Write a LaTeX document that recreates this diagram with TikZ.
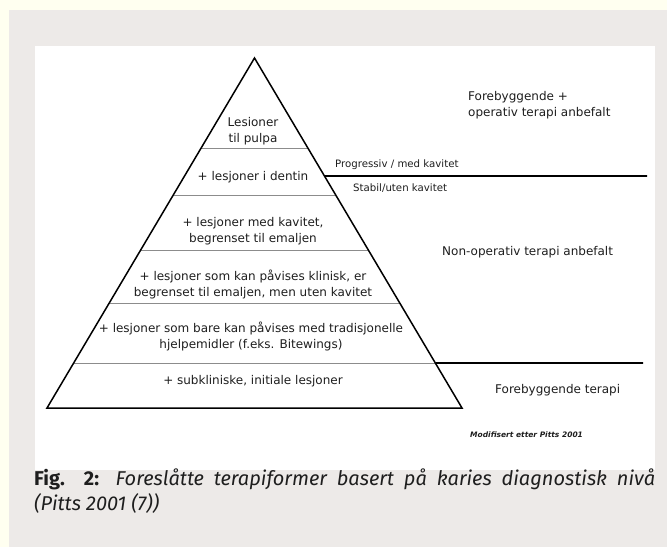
\documentclass[tikz,border=0pt]{standalone}
\usepackage{fontspec}
\setmainfont{DejaVu Sans}
\newfontfamily\capfont{Fira Sans}
\usetikzlibrary{calc}
\definecolor{cream}{RGB}{255,255,240}
\definecolor{panel}{RGB}{237,234,232}
\definecolor{layergray}{RGB}{140,140,140}
\definecolor{ink}{RGB}{30,30,30}
\begin{document}
\begin{tikzpicture}[x=1pt,y=-1pt,
  pyr/.style={draw=black,line width=1.5pt,line join=miter},
  layerline/.style={draw=layergray,line width=0.9pt},
  sepline/.style={draw=black,line width=1.6pt},
  lvl/.style={inner sep=0pt,align=center,text=ink,font=\fontsize{12}{16}\selectfont},
  rtxt/.style={inner sep=0pt,align=left,anchor=west,text=ink,font=\fontsize{12}{16}\selectfont},
  stxt/.style={inner sep=0pt,anchor=west,text=ink,font=\fontsize{10.2}{11}\selectfont},
  captxt/.style={inner sep=0pt,anchor=base west,text=ink,font=\capfont\fontsize{20}{25}\selectfont}]
\fill[cream] (0,0) rectangle (667,547);
\fill[panel] (9,10) rectangle (667,547);
\fill[white] (35,46) rectangle (655,470);
\useasboundingbox (0,0) rectangle (667,547);
% pyramid corners
\coordinate (A) at (254.5,58);
\coordinate (BL) at (47,408);
\coordinate (BR) at (462,408);
% layer boundaries
\coordinate (l1) at ($(A)!0.2571!(BL)$); \coordinate (r1) at ($(A)!0.2571!(BR)$);
\coordinate (l2) at ($(A)!0.3914!(BL)$); \coordinate (r2) at ($(A)!0.3914!(BR)$);
\coordinate (l3) at ($(A)!0.5486!(BL)$); \coordinate (r3) at ($(A)!0.5486!(BR)$);
\coordinate (l4) at ($(A)!0.7000!(BL)$); \coordinate (r4) at ($(A)!0.7000!(BR)$);
\coordinate (l5) at ($(A)!0.8714!(BL)$); \coordinate (r5) at ($(A)!0.8714!(BR)$);
\coordinate (rP) at ($(A)!0.3371!(BR)$);
\coordinate (eP) at (647,176);
\coordinate (eF) at (643,363);
\draw[layerline] (l1) -- (r1);
\draw[layerline] (l2) -- (r2);
\draw[layerline] (l3) -- (r3);
\draw[layerline] (l4) -- (r4);
\draw[layerline] (l5) -- (r5);
\draw[pyr] (A) -- (BL) -- (BR) -- cycle;
\draw[sepline] (rP) -- (eP);
\draw[sepline] (r5) -- (eF);
% level texts
\node[lvl] (t1) at (253,131) {Lesioner\\til pulpa};
\node[lvl] (t2) at (253,177) {+ lesjoner i dentin};
\node[lvl] (t3) at (253,231) {+ lesjoner med kavitet,\\begrenset til emaljen};
\node[lvl] (t4) at (253,284.5) {+ lesjoner som kan påvises klinisk, er\\begrenset til emaljen, men uten kavitet};
\node[lvl] (t5) at (251,336) {+ lesjoner som bare kan påvises med tradisjonelle\\hjelpemidler (f.eks. Bitewings)};
\node[lvl] (t6) at (253,381) {+ subkliniske, initiale lesjoner};
% right texts
\node[rtxt] (fo) at (468,105) {Forebyggende +\\operativ terapi anbefalt};
\node[stxt] (prog) at (335,165) {Progressiv / med kavitet};
\node[stxt] (stab) at (353,188) {Stabil/uten kavitet};
\node[rtxt] (nonop) at (442,252) {Non-operativ terapi anbefalt};
\node[rtxt] (fbt) at (495,390) {Forebyggende terapi};
\node[inner sep=0pt,anchor=west,text=ink,font=\fontsize{7.5}{8}\selectfont\bfseries\itshape] (mod) at (470,435) {Modifisert etter Pitts 2001};
% caption
\node[captxt] (cap1) at (34,485) {\makebox[621pt][s]{\textbf{Fig. 2:} \textit{Foreslåtte terapiformer basert på karies diagnostisk nivå}}};
\node[captxt] (cap2) at (34,510) {\textit{(Pitts 2001 (7))}};
\end{tikzpicture}
\end{document}
